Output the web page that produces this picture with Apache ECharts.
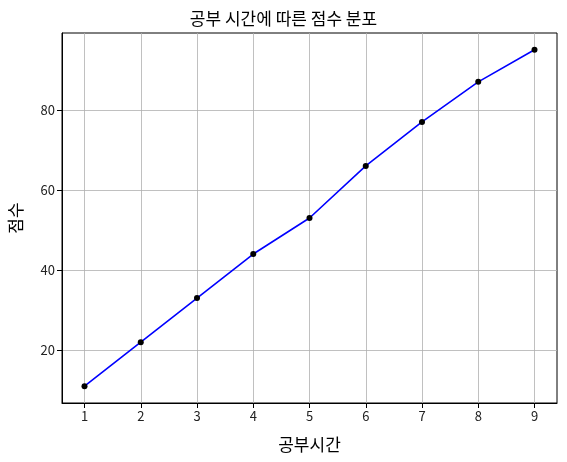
<!DOCTYPE html>
<html><head><meta charset="utf-8">
<script src="https://cdn.jsdelivr.net/npm/echarts@6/dist/echarts.min.js"></script>
<style>html,body{margin:0;padding:0;background:#fff}#c{width:567px;height:462px}</style>
</head><body><div id="c"></div>
<script>
const hours = [1, 2, 3, 4, 5, 6, 7, 8, 9];
const scores = [11, 22, 33, 44, 53, 66, 77, 87, 95];
const xTicks = [1, 2, 3, 4, 5, 6, 7, 8, 9];
const yTicks = [20, 40, 60, 80];
const title = '공부 시간에 따른 점수 분포';
const xName = '공부시간';
const yName = '점수';

const font = '"Noto Sans CJK KR", "Noto Sans", sans-serif';
const chart = echarts.init(document.getElementById('c'));
const axisCommon = {
  axisLine: {show: true, onZero: false, lineStyle: {color: '#000', width: 1}},
  axisTick: {show: true, length: 5, lineStyle: {color: '#000', width: 1}},
  axisLabel: {color: '#222', fontSize: 13, fontFamily: font, margin: 7},
  splitLine: {show: true, lineStyle: {color: '#b0b0b0', width: 0.8}},
  nameLocation: 'middle',
  nameTextStyle: {color: '#000', fontSize: 17, fontFamily: font}
};
chart.setOption({
  animation: false,
  title: {text: title, left: 'center', top: 5,
    textStyle: {fontSize: 17, fontWeight: 'normal', color: '#000', fontFamily: font}},
  grid: {left: 62, right: 10, top: 33, bottom: 59, containLabel: false, outerBoundsMode: 'none', show: true, borderColor: '#000', borderWidth: 1},
  xAxis: Object.assign({}, axisCommon, {
    type: 'value', min: 0.6, max: 9.4, name: xName, nameGap: 33,
    axisTick: Object.assign({}, axisCommon.axisTick, {customValues: xTicks}),
    axisLabel: Object.assign({}, axisCommon.axisLabel, {customValues: xTicks}),
  }),
  yAxis: Object.assign({}, axisCommon, {
    type: 'value', min: 6.8, max: 99.2, name: yName, nameGap: 38,
    axisTick: Object.assign({}, axisCommon.axisTick, {customValues: yTicks}),
    axisLabel: Object.assign({}, axisCommon.axisLabel, {customValues: yTicks}),
  }),
  series: [{
    type: 'line', data: hours.map((h, i) => [h, scores[i]]),
    lineStyle: {color: '#0000ff', width: 1.6},
    itemStyle: {color: '#000', borderWidth: 0},
    symbol: 'circle', symbolSize: 6, showSymbol: true
  }]
});
</script></body></html>
